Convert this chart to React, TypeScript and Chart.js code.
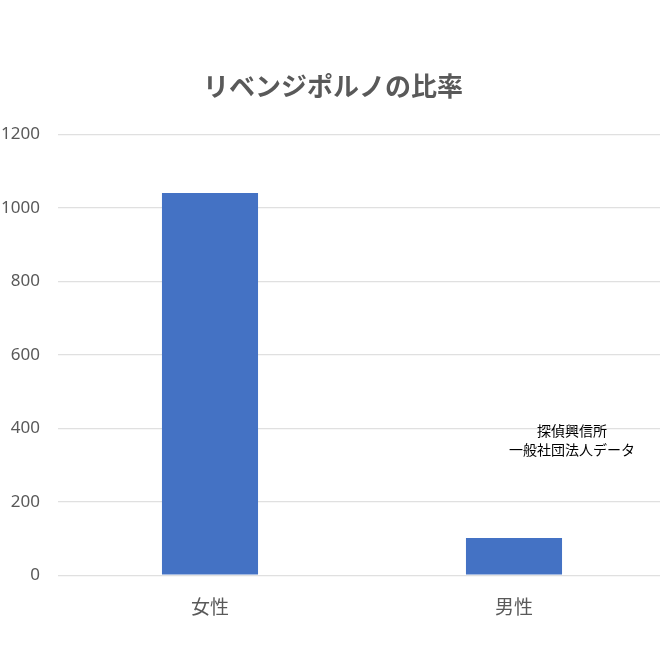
import { useEffect, useRef } from "react";
import { Chart, registerables } from "chart.js";

Chart.register(...registerables);

const categories = ["女性", "男性"];
const counts = [1040, 101];
const yTicks = [0, 200, 400, 600, 800, 1000, 1200];
const titleText = "リベンジポルノの比率";
const noteLines = ["探偵興信所", "一般社団法人データ"];

const FONT = "'Noto Sans', 'Noto Sans CJK JP', sans-serif";
const GRAY = "#595959";

const notePlugin = {
  id: "note",
  afterDraw(chart: Chart) {
    const { ctx } = chart;
    const x = chart.scales.x.getPixelForValue(1) + 58;
    const y = chart.scales.y.getPixelForValue(400) + 4;
    ctx.save();
    ctx.fillStyle = "#000";
    ctx.font = `14px ${FONT}`;
    ctx.textAlign = "center";
    ctx.textBaseline = "middle";
    noteLines.forEach((line, i) => ctx.fillText(line, x, y + i * 19));
    ctx.restore();
  },
};

export default function App() {
  const canvasRef = useRef<HTMLCanvasElement>(null);
  const chartRef = useRef<Chart | null>(null);

  useEffect(() => {
    if (!canvasRef.current) return;
    chartRef.current?.destroy();
    chartRef.current = new Chart(canvasRef.current, {
      type: "bar",
      data: {
        labels: categories,
        datasets: [
          {
            label: titleText,
            data: counts,
            backgroundColor: "#4472C4",
            categoryPercentage: 1,
            barPercentage: 0.316,
          },
        ],
      },
      options: {
        animation: false,
        responsive: true,
        maintainAspectRatio: false,
        layout: { padding: { bottom: 26, left: 0, right: 0 } },
        scales: {
          x: {
            grid: { display: false },
            border: { display: false },
            ticks: { color: GRAY, font: { family: FONT, size: 19 }, padding: 14 },
          },
          y: {
            min: 0,
            max: 1200,
            afterBuildTicks: (axis) => {
              axis.ticks = yTicks.map((v) => ({ value: v }));
            },
            afterFit: (axis) => {
              axis.width = 58;
            },
            grid: { color: "#e0e0e0", lineWidth: 1.3, drawTicks: false },
            border: { display: false },
            ticks: {
              color: GRAY,
              font: { family: FONT, size: 17 },
              padding: 18,
              callback: (v) => String(v),
            },
          },
        },
        plugins: {
          legend: { display: false },
          tooltip: { enabled: false },
          title: {
            display: true,
            text: titleText,
            color: GRAY,
            font: { family: FONT, size: 26, weight: "bold" },
            padding: { top: 73, bottom: 30 },
          },
        },
      },
      plugins: [notePlugin],
    });
    return () => chartRef.current?.destroy();
  }, []);

  return (
    <div
      style={{
        position: "fixed",
        left: 0,
        top: 0,
        width: 660,
        height: 660,
        overflow: "hidden",
        background: "#fff",
      }}
    >
      <div style={{ position: "relative", width: 666, height: 660 }}>
        <canvas ref={canvasRef} />
      </div>
    </div>
  );
}
